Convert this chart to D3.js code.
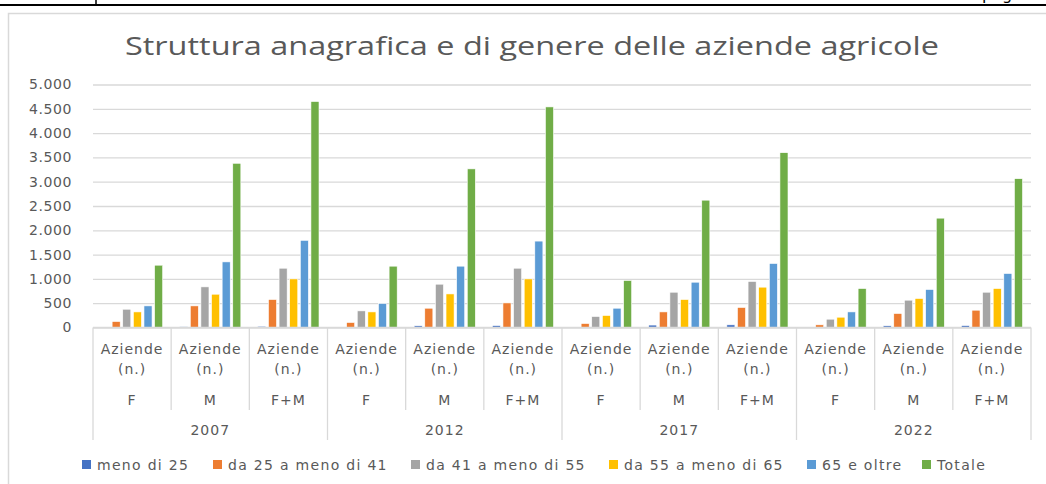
<!DOCTYPE html>
<html>
<head>
<meta charset="utf-8">
<script src="https://cdn.jsdelivr.net/npm/d3@7"></script>
<style>
	body { margin: 0; background: #fff; }
	text { font-family: "DejaVu Sans", sans-serif; fill: #595959; }
</style>
</head>
<body>
<div id="chart"></div>
<script>
// data
var years = ["2007", "2012", "2017", "2022"];
var sexes = ["F", "M", "F+M"];
var seriesNames = ["meno di 25", "da 25 a meno di 41", "da 41 a meno di 55", "da 55 a meno di 65", "65 e oltre", "Totale"];
var meno25 = [10, 15, 25, 8, 35, 40, 8, 50, 55, 5, 35, 40];
var da25a41 = [123, 445, 576, 103, 397, 506, 82, 321, 412, 55, 288, 356];
var da41a55 = [376, 836, 1220, 342, 891, 1220, 226, 726, 947, 171, 562, 726];
var da55a65 = [321, 685, 1000, 321, 691, 1000, 247, 576, 830, 212, 597, 802];
var oltre65 = [445, 1350, 1794, 494, 1262, 1778, 397, 932, 1317, 321, 782, 1111];
var totale = [1282, 3379, 4650, 1262, 3264, 4539, 967, 2620, 3597, 802, 2250, 3062];
var yTicks = [0, 500, 1000, 1500, 2000, 2500, 3000, 3500, 4000, 4500, 5000];

var seriesValues = [meno25, da25a41, da41a55, da55a65, oltre65, totale];
var colors = ["#4472C4", "#ED7D31", "#A5A5A5", "#FFC000", "#5B9BD5", "#70AD47"];

var width = 1046, height = 484;
var plotLeft = 93, plotRight = 1031, plotTop = 84.5, plotBottom = 327.5;

var svg = d3.select("#chart").append("svg")
	.attr("width", width)
	.attr("height", height);

// page bits above the chart
svg.append("line").attr("x1", 0).attr("x2", width).attr("y1", 5).attr("y2", 5)
	.attr("stroke", "#000").attr("stroke-width", 2);
svg.append("line").attr("x1", 96).attr("x2", 96).attr("y1", 0).attr("y2", 5)
	.attr("stroke", "#000").attr("stroke-width", 1.5);
svg.append("text").attr("x", 982).attr("y", 0).attr("font-size", 16)
	.style("fill", "#000").text("pag");

// chart frame
svg.append("rect").attr("x", 8.5).attr("y", 13.5).attr("width", width).attr("height", height)
	.attr("fill", "none").attr("stroke", "#d9d9d9").attr("stroke-width", 1.5);

svg.append("text")
	.attr("x", 532).attr("y", 55)
	.attr("text-anchor", "middle")
	.attr("font-size", 26)
	.attr("textLength", 814)
	.attr("lengthAdjust", "spacingAndGlyphs")
	.style("font-family", "'Open Sans', sans-serif")
	.text("Struttura anagrafica e di genere delle aziende agricole");

var cats = [];
years.forEach(function(y) {
	sexes.forEach(function(s) { cats.push(y + "|" + s); });
});

var x = d3.scaleBand().domain(cats).range([plotLeft, plotRight]);
var xYear = d3.scaleBand().domain(years).range([plotLeft, plotRight]);
var xInner = d3.scaleBand().domain(d3.range(seriesNames.length))
	.range([0, x.bandwidth()]).paddingInner(0.24).paddingOuter(0.8);
var y = d3.scaleLinear().domain([0, 5000]).range([plotBottom, plotTop]);

// gridlines + y labels
var yAxis = svg.append("g").attr("transform", "translate(" + plotLeft + ",0)")
	.call(d3.axisLeft(y).tickValues(yTicks)
		.tickSize(-(plotRight - plotLeft))
		.tickPadding(21)
		.tickFormat(function(d) { return d3.format(",")(d).replace(/,/g, "."); }));
yAxis.select(".domain").remove();
yAxis.selectAll(".tick line").attr("stroke", "#d9d9d9").attr("stroke-width", 1.3);
yAxis.selectAll(".tick text").attr("font-size", 14).style("letter-spacing", "0.6px")
	.style("font-family", "'DejaVu Sans', sans-serif").style("fill", "#595959");

// bars
var series = svg.append("g").selectAll("g")
	.data(seriesValues)
	.enter().append("g")
	.attr("fill", function(d, i) { return colors[i]; });

series.each(function(vals, si) {
	d3.select(this).selectAll("rect")
		.data(vals)
		.enter().append("rect")
		.attr("x", function(d, ci) { return x(cats[ci]) + xInner(si); })
		.attr("width", xInner.bandwidth())
		.attr("y", function(d) { return y(d); })
		.attr("height", function(d) { return plotBottom - y(d); })
		.attr("stroke", "#fff").attr("stroke-width", 0.6);
});

// x axis: baseline and dividers
var axisG = svg.append("g");
axisG.append("line").attr("x1", plotLeft).attr("x2", plotRight).attr("y1", plotBottom).attr("y2", plotBottom)
	.attr("stroke", "#d9d9d9").attr("stroke-width", 1.3);
cats.forEach(function(c, i) {
	if (i % 3 === 0) return;
	axisG.append("line").attr("x1", x(c)).attr("x2", x(c)).attr("y1", plotBottom).attr("y2", 410)
		.attr("stroke", "#d9d9d9").attr("stroke-width", 1.3);
});
years.concat(["end"]).forEach(function(yr) {
	var xx = yr === "end" ? plotRight : xYear(yr);
	axisG.append("line").attr("x1", xx).attr("x2", xx).attr("y1", plotBottom).attr("y2", 440)
		.attr("stroke", "#d9d9d9").attr("stroke-width", 1.3);
});

var catLabels = axisG.selectAll(".cat").data(cats).enter().append("g")
	.attr("transform", function(d) { return "translate(" + (x(d) + x.bandwidth() / 2) + ",0)"; })
	.attr("font-size", 14).attr("text-anchor", "middle").style("letter-spacing", "1px");
catLabels.append("text").attr("y", 354).text("Aziende");
catLabels.append("text").attr("y", 374).text("(n.)");
catLabels.append("text").attr("y", 405).text(function(d) { return d.split("|")[1]; });

axisG.selectAll(".yr").data(years).enter().append("text")
	.attr("x", function(d) { return xYear(d) + xYear.bandwidth() / 2; })
	.attr("y", 435).attr("font-size", 14).attr("text-anchor", "middle")
	.style("letter-spacing", "1px")
	.text(function(d) { return d; });

// legend
var legendX = [82, 213, 411, 609, 807, 922];
var legend = svg.append("g").selectAll("g").data(seriesNames).enter().append("g")
	.attr("transform", function(d, i) { return "translate(" + legendX[i] + ",460)"; });
legend.append("rect").attr("width", 9).attr("height", 9)
	.attr("fill", function(d, i) { return colors[i]; });
legend.append("text").attr("x", 15).attr("y", 10).attr("font-size", 14)
	.style("letter-spacing", "1.3px")
	.text(function(d) { return d; });
</script>
</body>
</html>
